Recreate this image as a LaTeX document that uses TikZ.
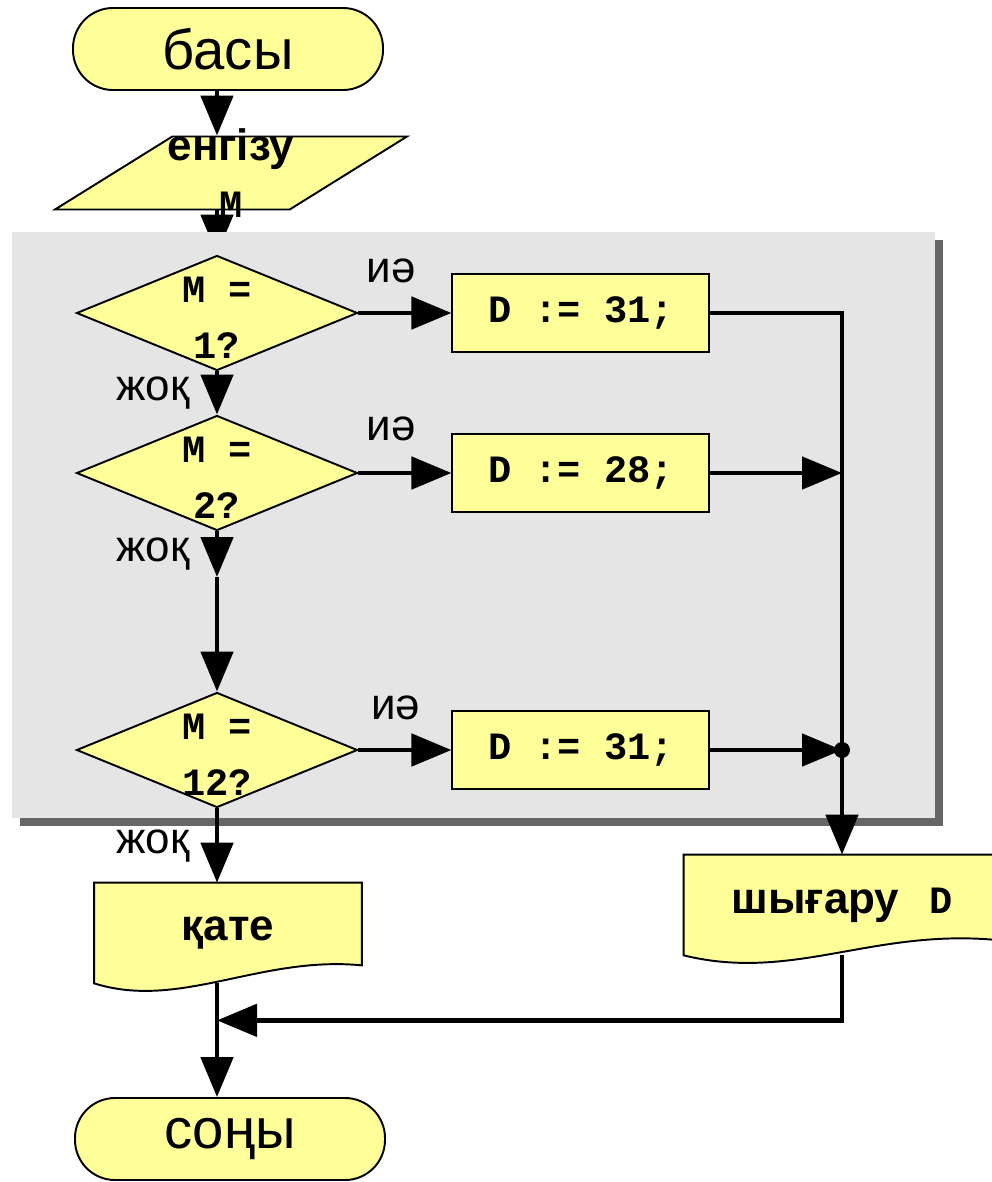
\documentclass[tikz,border=0pt]{standalone}
\usepackage{fontspec}
\setmainfont{Liberation Sans}
\newfontfamily\monob{Liberation Mono}
\newcommand{\cbf}{\monob\bfseries}
\usetikzlibrary{shapes.geometric,arrows.meta,positioning,calc,shadows}

\definecolor{boxyellow}{HTML}{FFFF99}
\definecolor{panelgray}{HTML}{E5E5E5}

\pgfdeclarelayer{back}
\pgfdeclarelayer{panel}
\pgfsetlayers{back,panel,main}

\tikzset{
  flow/.style={draw=black, line width=1.1pt, fill=boxyellow},
  term/.style={flow, rectangle, rounded corners=0.8cm, minimum width=6.2cm, minimum height=1.64cm, font=\fontsize{32}{36}\selectfont},
  io/.style={flow, trapezium, trapezium left angle=45, trapezium right angle=135, trapezium stretches=true, minimum width=7.04cm, minimum height=1.46cm},
  decision/.style={flow, diamond, inner sep=0pt, minimum width=5.62cm, minimum height=2.3cm},
  assign/.style={flow, rectangle, minimum width=5.14cm, minimum height=1.56cm, font=\fontsize{22}{26}\cbf},
  doc/.style={rectangle, minimum height=2cm, inner sep=0pt, font=\fontsize{25}{30}\selectfont\bfseries},
  arr/.style={line width=2.8pt, -{Triangle[length=0.8cm,width=0.64cm]}},
  conn/.style={line width=2.8pt},
  lab/.style={inner sep=0pt, font=\fontsize{25}{28}\selectfont},
  dtext/.style={align=center, yshift=-0.1cm, font=\fontsize{22}{32}\cbf},
}

\begin{document}
\begin{tikzpicture}
\useasboundingbox (0,0) rectangle (19.84,-23.64);

% start and input
\node[term] (start) at (4.56,-0.98) {басы};
\node[io, label={[align=center, font=\fontsize{25}{32}\selectfont\bfseries]center:{енгізу\\{\fontsize{22}{32}\cbf M}}}] (in) at (4.62,-3.46) {};

% the three checks
\node[decision, label={[dtext]center:{M =\\1?}}] (d1) at (4.34,-6.26) {};
\node[decision, label={[dtext]center:{M =\\2?}}] (d2) at (4.34,-9.46) {};
\node[decision, label={[dtext]center:{M =\\12?}}] (d3) at (4.34,-15.0) {};
\coordinate (g2) at (4.34,-11.54);

\node[assign, right=1.86cm of d1] (b1) {D := 31;};
\node[assign, right=1.86cm of d2] (b2) {D := 28;};
\node[assign, right=1.86cm of d3] (b3) {D := 31;};

% results
\node[doc, minimum width=5.34cm] (err) at (4.56,-18.66) {қате};
\node[doc, minimum width=6.32cm] (out) at (16.84,-18.10) {шығару\hspace{0.6cm}{\fontsize{22}{30}\cbf D}};
\node[term] (end) at (4.6,-22.78) {соңы};

\coordinate (j2) at (b2.east -| out.north);
\coordinate (j3) at (b3.east -| out.north);
\coordinate (merge) at ($(err.south -| d3)+(0,-0.74)$);

% grey panel
\begin{pgfonlayer}{panel}
\fill[panelgray, drop shadow={shadow xshift=0.16cm, shadow yshift=-0.16cm, fill=black!75, opacity=0.8}] (0.24,-4.64) rectangle (18.7,-16.36);
\foreach \d/\r in {err/0.36,out/0.30}
  {
  \draw[flow] (\d.north west) -- (\d.north east) -- ($(\d.south east)+(0,\r)$)
    .. controls ($(\d.south)+(0.64,0.56)$) and ($(\d.south)+(-0.96,-0.54)$) .. (\d.south west) -- cycle;
  }
\end{pgfonlayer}

\begin{pgfonlayer}{back}
\draw[arr] (in.south -| d1) -- (d1.north);
\end{pgfonlayer}

\draw[arr] (start.south -| d1) -- (in.north -| d1);

\draw[arr] (d1.east) -- (b1.west) node[lab, pos=0.35, above=0.56cm] {иә};
\draw[arr] (d2.east) -- (b2.west) node[lab, pos=0.35, above=0.6cm] {иә};
\draw[arr] (d3.east) -- (b3.west) node[lab, pos=0.4, above=0.56cm] {иә};

\draw[arr] (d1.south) -- (d2.north) node[lab, midway, left=0.5cm] {жоқ};
\draw[arr] (d2.south) -- (g2) node[lab, midway, left=0.5cm] {жоқ};
\draw[arr] (g2) -- (d3.north);
\draw[arr] (d3.south) -- (d3.south |- err.north) node[lab, midway, left=0.5cm] {жоқ};

\draw[arr] (b1.east) -| (out.north);
\draw[arr] (b2.east) -- (j2);
\draw[arr] (b3.east) -- (j3);
\fill (j3) circle (0.16);

\draw[arr] (out.south) |- (merge);
\draw[arr] (err.south -| merge) -- (end.north -| merge);
\end{tikzpicture}
\end{document}
